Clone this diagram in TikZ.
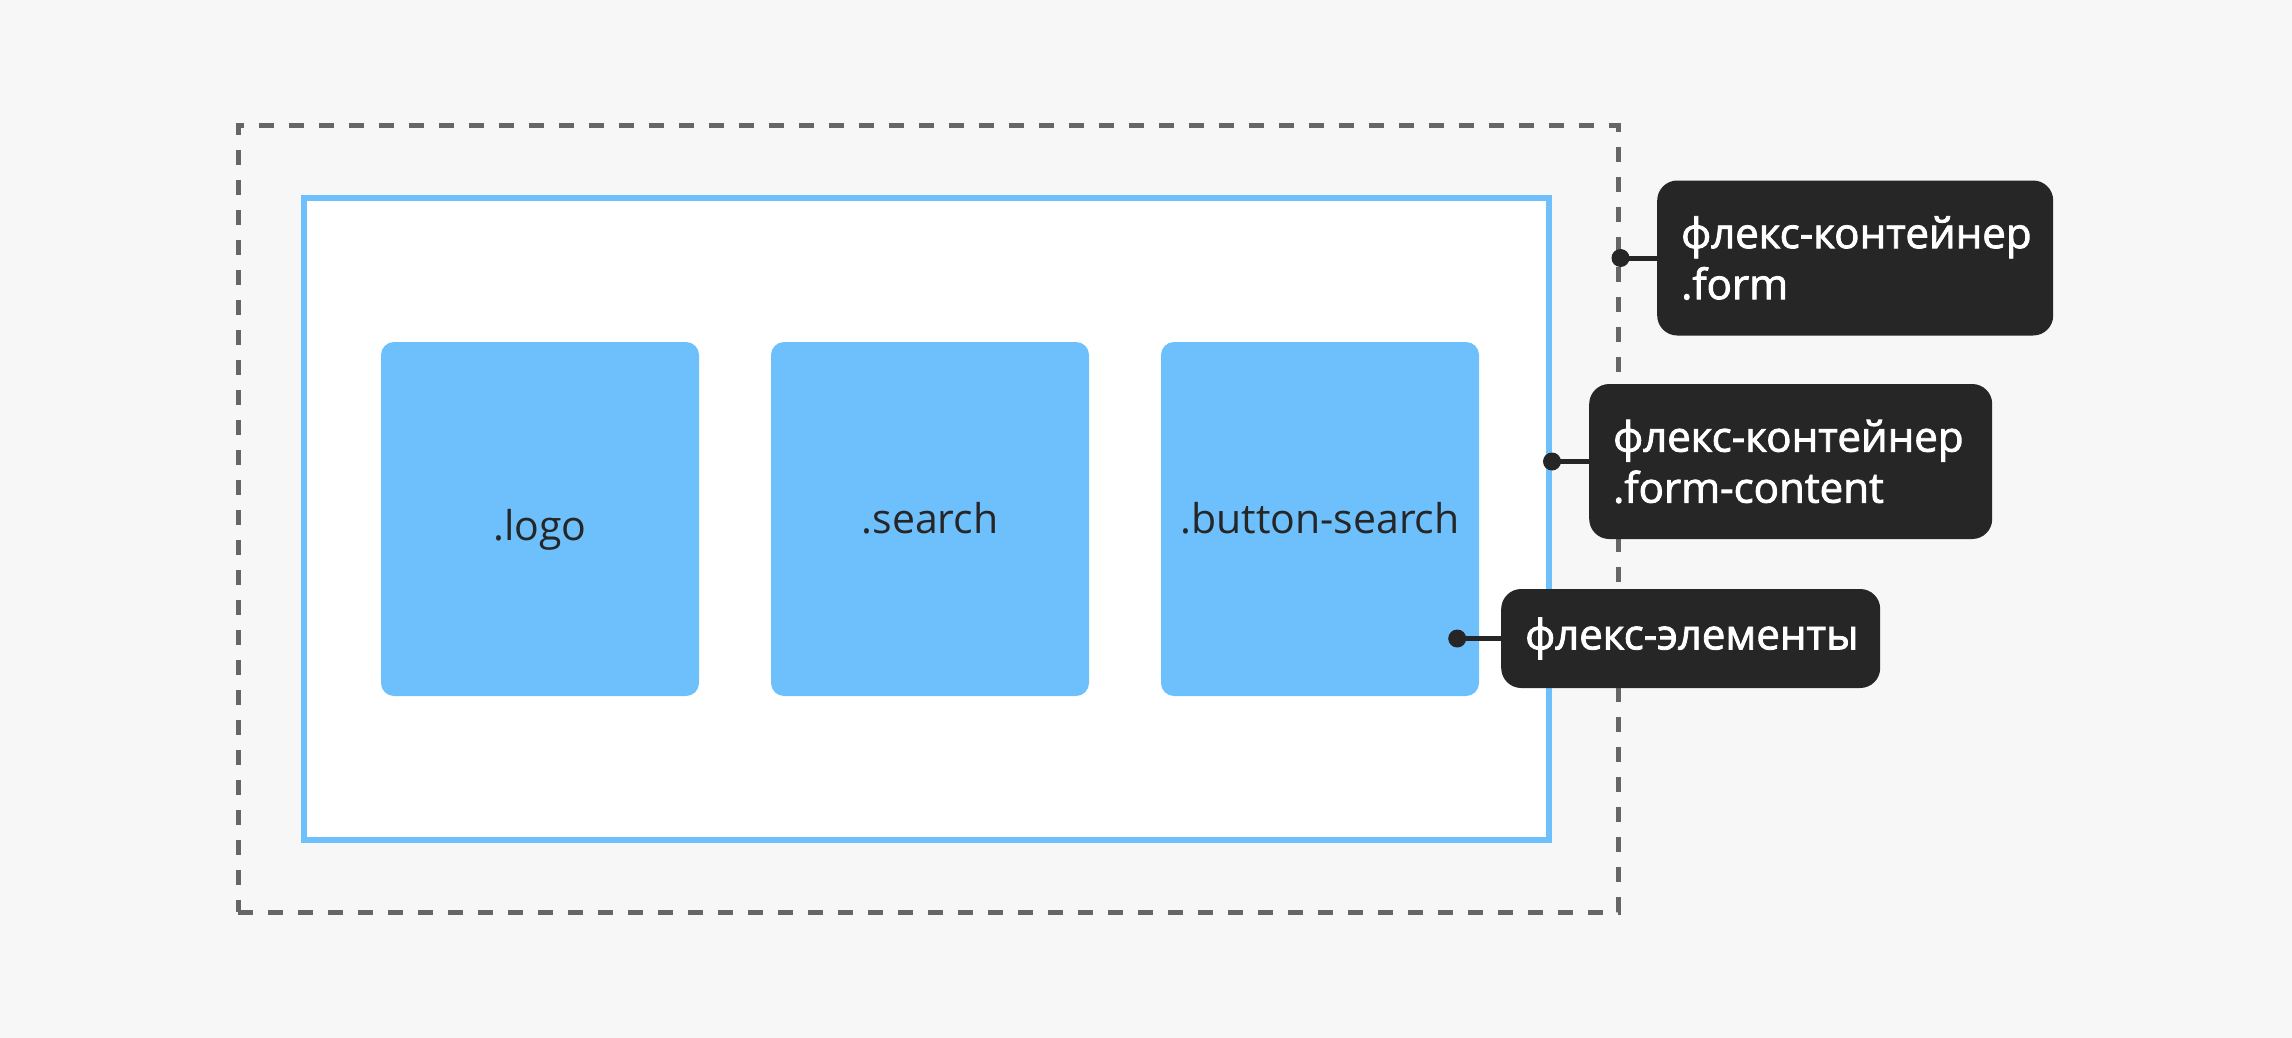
\documentclass[tikz,border=0pt]{standalone}
\usepackage{fontspec}
\setmainfont{Open Sans}
\newfontfamily\labfont[FakeBold=2]{Open Sans}
\usetikzlibrary{calc}
\definecolor{bgc}{HTML}{F7F7F7}
\definecolor{dashc}{HTML}{666666}
\definecolor{bluec}{HTML}{6EC0FC}
\definecolor{darkc}{HTML}{262626}
\tikzset{
  formbox/.style={draw=dashc, line width=5pt, dash pattern=on 15pt off 15pt, rectangle, inner sep=0pt, minimum width=1380pt, minimum height=786pt},
  contentbox/.style={draw=bluec, fill=white, line width=6pt, rectangle, inner sep=0pt, minimum width=1245pt, minimum height=642pt},
  itembox/.style={fill=bluec, rounded corners=13pt, inner sep=0pt, minimum width=318pt, minimum height=354pt, text=darkc, text height=28pt, text depth=0pt, font=\fontsize{41}{50}\selectfont},
  labelbox/.style={fill=darkc, rounded corners=20pt, text=white, align=left, anchor=west, inner xsep=24pt, inner ysep=0pt, font=\labfont\fontsize{42}{51}\selectfont},
  dotpt/.style={circle, fill=darkc, inner sep=0pt, minimum size=18pt},
  conn/.style={draw=darkc, line width=5pt}
}
\begin{document}
\begin{tikzpicture}[x=1pt, y=-1pt]
\useasboundingbox (0,0) rectangle (2292,1038);
\fill[bgc] (0,0) rectangle (2292,1038);
\node[formbox] (form) at (928,519) {};
\node[contentbox] (content) at (926.5,519) {};
\node[itembox, text height=42pt] (logo) at (540,519) {.logo};
\node[itembox] (search) at (930,519) {.search};
\node[itembox] (button) at (1320,519) {.button-search};
\node[labelbox, minimum width=396pt, minimum height=155pt, text width=348pt] (lab1) at (1657,258) {\mbox{флекс-контейнер}\\.form};
\node[labelbox, minimum width=403pt, minimum height=155pt, text width=355pt] (lab2) at (1589,461.5) {\mbox{флекс-контейнер}\\\mbox{.form-content}};
\node[labelbox, minimum width=379pt, minimum height=99pt, text width=331pt] (lab3) at (1501,638.5) {\mbox{флекс-элементы}};
\node[dotpt] (d1) at (form.east |- lab1.west) {};
\node[dotpt] (d2) at (content.east |- lab2.west) {};
\node[dotpt] (d3) at ($(button.east |- lab3.west)+(-22,0)$) {};
\draw[conn] (d1.center) -- (lab1.west);
\draw[conn] (d2.center) -- (lab2.west);
\draw[conn] (d3.center) -- (lab3.west);
\end{tikzpicture}
\end{document}
